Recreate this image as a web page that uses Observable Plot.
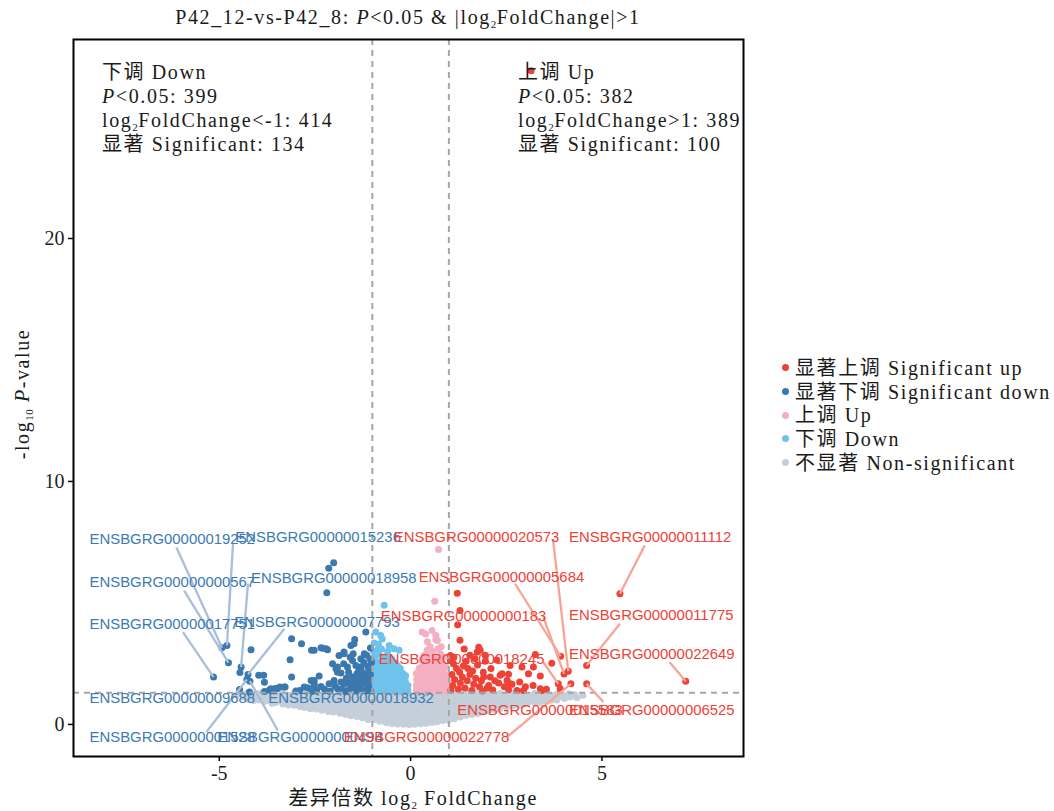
<!DOCTYPE html>
<html><head><meta charset="utf-8">
<script src="https://cdn.jsdelivr.net/npm/d3@7"></script>
<script src="https://cdn.jsdelivr.net/npm/@observablehq/plot@0.6"></script>
<style>
body{margin:0;background:#fff;}
#wrap{position:relative;width:1054px;height:811px;font-family:"Liberation Serif","Noto Sans CJK SC",serif;color:#1a1a1a;overflow:hidden;}
#wrap svg{position:absolute;left:0;top:0;}
.ov{position:absolute;white-space:nowrap;font-size:20px;line-height:24px;letter-spacing:1.6px;}
.ov sub{font-size:11px;vertical-align:-4px;line-height:0;letter-spacing:0.5px;}
.ov i{font-style:italic;}
.lg{display:flex;align-items:center;height:23.7px;}
.lg span.d{display:inline-block;width:7px;height:7px;border-radius:50%;margin-right:6px;}
</style></head>
<body><div id="wrap"></div>
<script>
// ---- data (log2 FoldChange, -log10 P) ----
const nonSig = [
[-4.55,1.21],[-4.42,1.26],[-4.38,1.12],[-4.27,1.28],[-4.22,1.15],[-4.26,1.04],[-4.12,1.22],[-4.08,1.09],[-4.1,0.98],
[-3.96,1.27],[-3.93,1.13],[-3.97,1.01],[-3.81,1.2],[-3.78,1.06],[-3.83,0.94],[-3.66,1.26],[-3.63,1.1],[-3.68,0.96],[-3.62,0.87],
[-3.51,1.18],[-3.48,1.03],[-3.53,0.9],[-3.36,1.27],[-3.33,1.12],[-3.38,0.97],[-3.34,0.84],[-3.21,1.2],[-3.18,1.05],[-3.23,0.91],[-3.19,0.8],
[-3.06,1.26],[-3.03,1.1],[-3.08,0.95],[-3.04,0.79],[-2.91,1.18],[-2.88,1.02],[-2.93,0.87],[-2.89,0.74],[-2.76,1.28],[-2.73,1.12],[-2.78,0.96],[-2.74,0.81],[-2.77,0.7],
[-2.61,1.2],[-2.58,1.04],[-2.63,0.88],[-2.59,0.73],[-2.62,0.65],[-2.46,1.27],[-2.43,1.1],[-2.48,0.94],[-2.44,0.78],[-2.47,0.63],
[-2.31,1.19],[-2.28,1.02],[-2.33,0.86],[-2.29,0.7],[-2.32,0.58],[-2.16,1.26],[-2.13,1.1],[-2.18,0.93],[-2.14,0.77],[-2.17,0.62],[-2.15,0.53],
[-2.01,1.18],[-1.98,1.02],[-2.03,0.85],[-1.99,0.68],[-2.02,0.51],[-1.86,1.27],[-1.83,1.1],[-1.88,0.93],[-1.84,0.76],[-1.87,0.6],[-1.85,0.46],
[-1.71,1.2],[-1.68,1.03],[-1.73,0.86],[-1.69,0.69],[-1.72,0.53],[-1.7,0.41],[-1.56,1.28],[-1.53,1.1],[-1.58,0.93],[-1.54,0.76],[-1.57,0.6],[-1.55,0.45],[-1.56,0.36],
[-1.41,1.2],[-1.38,1.02],[-1.43,0.85],[-1.39,0.68],[-1.42,0.51],[-1.4,0.33],[-1.26,1.27],[-1.23,1.1],[-1.28,0.92],[-1.24,0.75],[-1.27,0.58],[-1.25,0.42],[-1.26,0.27],
[-1.11,1.2],[-1.08,1.02],[-1.13,0.84],[-1.09,0.66],[-1.12,0.48],[-1.1,0.31],[-1.11,0.2],
[-0.96,1.27],[-0.93,1.1],[-0.98,0.92],[-0.94,0.74],[-0.97,0.56],[-0.95,0.38],[-0.96,0.19],
[-0.81,1.2],[-0.78,1.02],[-0.83,0.84],[-0.79,0.66],[-0.82,0.48],[-0.8,0.3],[-0.81,0.13],
[-0.66,1.27],[-0.63,1.09],[-0.68,0.91],[-0.64,0.73],[-0.67,0.55],[-0.65,0.37],[-0.66,0.19],[-0.64,0.07],
[-0.51,1.2],[-0.48,1.02],[-0.53,0.84],[-0.49,0.66],[-0.52,0.48],[-0.5,0.3],[-0.51,0.12],[-0.49,0.04],
[-0.36,1.27],[-0.33,1.09],[-0.38,0.91],[-0.34,0.73],[-0.37,0.55],[-0.35,0.37],[-0.36,0.19],[-0.34,0.02],
[-0.21,1.2],[-0.18,1.02],[-0.23,0.84],[-0.19,0.66],[-0.22,0.48],[-0.2,0.3],[-0.21,0.12],[-0.19,0.01],
[-0.06,1.27],[-0.03,1.09],[-0.08,0.91],[-0.04,0.73],[-0.07,0.55],[-0.05,0.37],[-0.06,0.19],[-0.04,0.0],
[0.09,1.2],[0.12,1.02],[0.07,0.84],[0.11,0.66],[0.08,0.48],[0.1,0.3],[0.09,0.12],[0.11,0.01],
[0.24,1.27],[0.27,1.09],[0.22,0.91],[0.26,0.73],[0.23,0.55],[0.25,0.37],[0.24,0.19],[0.26,0.03],
[0.39,1.2],[0.42,1.02],[0.37,0.84],[0.41,0.66],[0.38,0.48],[0.4,0.3],[0.39,0.12],[0.41,0.05],
[0.54,1.27],[0.57,1.09],[0.52,0.91],[0.56,0.73],[0.53,0.55],[0.55,0.37],[0.54,0.19],[0.56,0.08],
[0.69,1.2],[0.72,1.02],[0.67,0.84],[0.71,0.66],[0.68,0.48],[0.7,0.3],[0.69,0.11],
[0.84,1.27],[0.87,1.09],[0.82,0.91],[0.86,0.73],[0.83,0.55],[0.85,0.37],[0.84,0.16],
[0.99,1.2],[1.02,1.02],[0.97,0.84],[1.01,0.66],[0.98,0.48],[1.0,0.3],[0.99,0.18],
[1.14,1.27],[1.17,1.09],[1.12,0.91],[1.16,0.73],[1.13,0.55],[1.15,0.37],[1.14,0.23],
[1.29,1.2],[1.32,1.02],[1.27,0.84],[1.31,0.66],[1.28,0.48],[1.3,0.31],
[1.44,1.27],[1.47,1.09],[1.42,0.91],[1.46,0.73],[1.43,0.55],[1.45,0.38],
[1.59,1.2],[1.62,1.02],[1.57,0.84],[1.61,0.66],[1.58,0.5],[1.6,0.41],
[1.74,1.27],[1.77,1.09],[1.72,0.91],[1.76,0.73],[1.73,0.56],[1.75,0.45],
[1.89,1.2],[1.92,1.02],[1.87,0.84],[1.91,0.66],[1.88,0.51],
[2.04,1.27],[2.07,1.09],[2.02,0.91],[2.06,0.73],[2.03,0.57],
[2.19,1.2],[2.22,1.02],[2.17,0.84],[2.21,0.68],[2.18,0.61],
[2.34,1.27],[2.37,1.1],[2.32,0.93],[2.36,0.76],[2.33,0.65],
[2.49,1.2],[2.52,1.03],[2.47,0.86],[2.51,0.71],
[2.64,1.27],[2.67,1.1],[2.62,0.93],[2.66,0.77],
[2.79,1.2],[2.82,1.04],[2.77,0.88],[2.81,0.79],
[2.94,1.27],[2.97,1.1],[2.92,0.94],[2.96,0.83],
[3.09,1.2],[3.12,1.04],[3.07,0.89],
[3.24,1.27],[3.27,1.1],[3.22,0.95],[3.26,0.87],
[3.39,1.2],[3.42,1.05],[3.37,0.91],
[3.54,1.27],[3.57,1.12],[3.52,0.97],
[3.69,1.2],[3.72,1.06],[3.67,0.99],
[3.84,1.26],[3.87,1.12],[3.82,1.01],
[3.99,1.2],[4.02,1.07],[4.14,1.26],[4.17,1.13],[4.29,1.22],[4.35,1.1],[4.5,1.2]
];

const nsDown = [
[-0.97,1.4],[-0.97,1.6],[-0.97,1.8],[-0.97,2.0],[-0.96,2.2],[-0.97,2.45],[-0.96,2.7],[-0.97,3.0],[-0.95,3.35],
[-0.9,1.5],[-0.9,1.7],[-0.91,1.95],[-0.9,2.15],[-0.9,2.4],[-0.91,2.6],[-0.9,2.85],[-0.91,3.8],
[-0.83,1.38],[-0.83,1.6],[-0.84,1.82],[-0.83,2.05],[-0.83,2.3],[-0.84,2.55],[-0.83,2.9],[-0.84,3.3],[-0.85,3.1],
[-0.76,1.45],[-0.76,1.7],[-0.77,1.9],[-0.76,2.12],[-0.76,2.35],[-0.77,2.6],[-0.76,3.1],[-0.74,3.52],[-0.78,3.66],
[-0.69,1.36],[-0.69,1.55],[-0.7,1.8],[-0.69,2.0],[-0.69,2.25],[-0.7,2.5],[-0.69,2.78],[-0.69,4.9],
[-0.62,1.42],[-0.62,1.65],[-0.63,1.88],[-0.62,2.1],[-0.62,2.35],[-0.63,2.62],[-0.6,3.0],
[-0.55,1.35],[-0.55,1.58],[-0.56,1.8],[-0.55,2.02],[-0.55,2.28],[-0.56,2.5],[-0.55,2.75],[-0.56,3.25],
[-0.48,1.45],[-0.48,1.68],[-0.49,1.9],[-0.48,2.15],[-0.48,2.4],[-0.49,2.68],
[-0.41,1.38],[-0.41,1.6],[-0.42,1.82],[-0.41,2.05],[-0.41,2.3],[-0.42,2.55],[-0.43,3.11],
[-0.34,1.44],[-0.34,1.66],[-0.35,1.9],[-0.34,2.14],[-0.34,2.42],
[-0.27,1.36],[-0.27,1.58],[-0.28,1.8],[-0.27,2.05],[-0.27,2.3],[-0.3,3.05],
[-0.2,1.42],[-0.2,1.62],[-0.21,1.85],[-0.2,2.1],
[-0.13,1.35],[-0.13,1.55],[-0.14,1.78],[-0.13,2.0],
[-0.07,1.4],[-0.07,1.6]
];

const nsUp = [
[0.15,1.4],[0.15,1.6],[0.16,1.85],[0.15,2.1],
[0.22,1.35],[0.22,1.55],[0.23,1.78],[0.22,2.0],[0.22,2.3],
[0.29,1.42],[0.29,1.65],[0.3,1.88],[0.29,2.12],[0.29,2.38],[0.3,2.65],[0.3,3.8],
[0.36,1.38],[0.36,1.6],[0.37,1.82],[0.36,2.05],[0.36,2.3],[0.37,2.55],[0.36,2.85],[0.39,3.72],
[0.43,1.45],[0.43,1.68],[0.44,1.9],[0.43,2.15],[0.43,2.42],[0.44,2.7],[0.43,3.05],[0.44,3.4],
[0.5,1.36],[0.5,1.58],[0.51,1.8],[0.5,2.02],[0.5,2.28],[0.51,2.55],[0.5,2.85],[0.51,3.2],
[0.57,1.42],[0.57,1.65],[0.58,1.88],[0.57,2.12],[0.57,2.38],[0.58,2.65],[0.57,3.0],[0.56,3.87],
[0.64,1.35],[0.64,1.55],[0.65,1.78],[0.64,2.0],[0.64,2.25],[0.65,2.5],[0.64,2.8],[0.66,3.5],[0.63,5.07],
[0.71,1.44],[0.71,1.66],[0.72,1.9],[0.71,2.14],[0.71,2.4],[0.72,2.68],[0.71,3.1],[0.7,3.45],[0.66,3.66],[0.73,7.2],
[0.78,1.38],[0.78,1.6],[0.79,1.82],[0.78,2.05],[0.78,2.3],[0.79,2.6],[0.78,2.9],[0.8,3.2],
[0.85,1.45],[0.85,1.68],[0.86,1.92],[0.85,2.18],[0.85,2.45],[0.86,2.75],
[0.92,1.36],[0.92,1.58],[0.93,1.8],[0.92,2.05],[0.92,2.35],
[0.98,1.5],[0.98,1.75],[0.98,2.0]
];

const sigDown = [
[-2.01,6.65],[-2.14,6.43],[-2.19,5.42],
[-5.15,1.95],[-4.93,3.16],[-4.8,3.25],[-4.76,2.54],[-4.43,2.36],[-4.46,2.14],[-4.25,2.06],[-4.28,1.85],[-4.2,1.78],[-4.17,3.07],[-4.47,1.44],[-4.21,1.33],
[-3.97,2.02],[-3.84,2.02],[-3.82,1.74],[-3.82,1.36],[-3.69,1.42],[-3.54,1.48],[-3.42,1.54],[-3.28,1.54],
[-3.15,2.66],[-3.11,3.53],[-2.85,3.32],[-3.11,1.95],[-2.59,3.05],[-2.52,3.05],[-2.3,3.14],[-2.17,3.07],[-2.21,3.11],[-2.34,3.16],
[-2.39,1.99],[-2.6,1.81],[-2.52,1.67],[-2.78,1.54],[-2.69,1.51],[-2.52,1.6],[-2.34,1.56],[-2.13,1.67],[-2.0,1.81],[-2.52,1.81],
[-1.17,3.8],[-1.46,3.5],[-1.56,3.25],[-1.48,3.32],[-1.87,2.84],[-1.74,2.98],[-1.58,2.77],[-2.04,2.5],[-1.91,2.36],[-1.21,2.91],
[-1.91,1.47],[-1.74,1.65],[-1.56,1.51],[-1.39,1.6],[-1.95,2.29],[-1.91,2.15],[-1.75,2.5],[-1.65,2.36],[-1.52,2.63],[-1.43,2.43],
[-1.3,2.36],[-1.26,2.15],[-1.17,2.02],[-1.09,2.22],[-1.52,1.95],[-1.39,2.02],[-1.35,1.81],[-1.02,2.56],[-1.74,2.91],[-1.5,2.91],
[-1.05,1.4],[-1.12,1.55],[-1.2,1.7],[-1.08,1.85],[-1.15,1.38],[-1.28,1.45],[-1.32,1.65],[-1.42,1.38],[-1.45,1.75],[-1.6,1.7],
[-1.62,1.42],[-1.68,1.9],[-1.8,1.45],[-1.82,1.75],[-1.05,2.05],[-1.12,2.38],[-1.22,2.55],[-1.35,2.25],[-1.06,2.7],[-1.15,2.85],
[-1.05,3.15],[-1.3,2.7],[-1.62,2.15],[-1.82,2.12],[-2.25,1.45],[-2.45,1.42],[-2.1,1.38],[-1.98,1.58],[-2.9,1.4],[-3.0,1.38],
[-1.1,1.62],[-1.25,1.9],[-1.4,2.1],[-1.5,1.55],[-1.7,1.35],[-2.6,1.38],[-3.65,1.47],[-3.49,1.47],[-3.3,1.54]
];

const sigUp = [
[3.15,26.9],
[1.22,5.4],[1.29,4.69],[1.23,4.1],[1.29,3.46],[1.78,3.18],[1.82,3.05],[1.74,2.98],[1.13,2.77],[1.04,2.63],[1.04,2.84],
[3.26,2.88],[3.69,2.52],[3.21,2.36],[3.39,1.99],[2.56,2.07],[2.34,2.02],[2.6,2.43],[2.91,2.36],[3.43,1.4],[2.78,1.4],
[2.95,1.4],[2.56,1.43],[2.6,1.67],[2.04,1.6],[2.3,1.7],[2.08,1.95],[1.91,1.95],[2.52,1.81],[2.65,1.65],[3.08,2.09],[2.39,2.09],[3.39,1.47],
[4.12,2.19],[5.47,5.38],[3.92,2.81],[4.01,2.08],[4.6,2.43],[3.86,1.67],[7.19,1.78],[3.91,1.47],[4.19,1.67],[4.6,1.67],
[1.05,1.4],[1.1,1.6],[1.15,1.85],[1.08,2.05],[1.2,2.3],[1.12,2.5],[1.25,1.45],[1.3,1.7],[1.35,1.95],[1.28,2.15],
[1.38,2.4],[1.42,1.5],[1.48,1.8],[1.55,2.05],[1.5,2.3],[1.45,2.6],[1.6,1.4],[1.65,1.65],[1.7,1.9],[1.62,2.2],
[1.75,2.45],[1.68,2.7],[1.8,1.55],[1.85,1.8],[1.9,2.15],[1.95,2.6],[1.88,1.38],[2.0,1.5],[2.15,1.42],[2.2,1.8],
[2.1,2.3],[2.25,2.65],[1.55,2.85],[1.4,3.1],[1.95,2.85],[2.45,1.55],[2.85,1.75],[3.0,1.55],[3.2,1.6],[3.55,1.45]
];

// labelled genes: point, text start, segment start (null = no segment)
const labelGenes = ["ENSBGRG00000019252","ENSBGRG00000015236","ENSBGRG00000000567","ENSBGRG00000018958","ENSBGRG00000017751",
  "ENSBGRG00000007793","ENSBGRG00000009688","ENSBGRG00000018932","ENSBGRG00000001528","ENSBGRG00000000494",
  "ENSBGRG00000020573","ENSBGRG00000011112","ENSBGRG00000005684","ENSBGRG00000000183","ENSBGRG00000011775",
  "ENSBGRG00000018245","ENSBGRG00000022649","ENSBGRG00000015583","ENSBGRG00000006525","ENSBGRG00000022778"];
const labelSide  = ["down","down","down","down","down","down","down","down","down","down","up","up","up","up","up","up","up","up","up","up"];
const labelPtX   = [-4.93,-4.8,-4.76,-4.43,-5.15,-4.25,-4.47,-3.82,-4.28,-4.2, 4.12,5.47,3.92,4.01,4.6,3.86,7.19,3.91,4.6,4.19];
const labelPtY   = [3.16,3.25,2.54,2.36,1.95,2.06,1.44,1.36,1.85,1.78, 2.19,5.38,2.81,2.08,2.43,1.67,1.78,1.47,1.67,1.67];
const labelTxtX  = [-8.39,-4.58,-8.39,-4.17,-8.39,-4.61,-8.39,-3.72,-8.39,-5.05, -0.44,4.14,0.21,-0.78,4.14,-0.83,4.14,1.22,4.14,-1.75];
const labelTxtY  = [7.61,7.7,5.84,6.01,4.12,4.2,1.07,1.07,-0.53,-0.53, 7.7,7.7,6.05,4.44,4.49,2.67,2.88,0.58,0.58,-0.53];
const labelSegX  = [-6.12,-4.64,-5.92,-4.25,-5.95,-3.3,null,null,-5.34,-3.47, 3.72,6.12,2.73,3.47,5.47,3.47,6.77,null,5.04,2.52];
const labelSegY  = [7.28,7.45,5.51,5.8,3.8,3.94,null,null,-0.32,-0.25, 7.64,7.37,5.79,4.42,4.14,2.56,2.56,null,0.92,-0.52];

const xTicks = [-5,0,5], yTicks = [0,10,20];
const thresholdsX = [-1,1], thresholdY = [1.301];

const colors = {sigUp:"#EE4236", sigDown:"#3A78AE", up:"#F4B0C2", down:"#6EC3EC", ns:"#C4CFDA"};
const textColors = {up:"#EE4236", down:"#3C7AB3"};
const segColors = {up:"#F6A595", down:"#A9BEDA"};

const labels = labelGenes.map((g,i)=>({gene:g, side:labelSide[i], px:labelPtX[i], py:labelPtY[i], tx:labelTxtX[i], ty:labelTxtY[i], sx:labelSegX[i], sy:labelSegY[i]}));
const segs = labels.filter(d=>d.sx!=null);

const W=1054, H=811;
const dot = (data, fill) => Plot.dot(data, {x:d=>d[0], y:d=>d[1], r:3.5, fill, stroke:null});

const chart = Plot.plot({
  width:W, height:H,
  marginLeft:73, marginRight:W-743, marginTop:39, marginBottom:H-756,
  x:{domain:[-8.81,8.7]},
  y:{domain:[-1.32,28.19]},
  style:{fontFamily:"'Liberation Serif','Noto Sans CJK SC',serif", background:"transparent"},
  marks:[
    dot(nonSig, colors.ns),
    dot(nsDown, colors.down),
    dot(nsUp, colors.up),
    dot(sigDown, colors.sigDown),
    dot(sigUp, colors.sigUp),
    Plot.ruleX(thresholdsX, {stroke:"#a6a6a6", strokeWidth:2, strokeDasharray:"6,5"}),
    Plot.ruleY(thresholdY, {stroke:"#a6a6a6", strokeWidth:2, strokeDasharray:"6,5"}),
    Plot.link(segs, {x1:"sx", y1:"sy", x2:"px", y2:"py", stroke:d=>segColors[d.side], strokeWidth:2.3}),
    Plot.text(labels, {x:"tx", y:"ty", text:"gene", textAnchor:"start", fill:d=>textColors[d.side], fontSize:14.9, fontFamily:"'Liberation Sans',Arial,sans-serif"}),
    Plot.axisX({ticks:xTicks, tickFormat:d=>String(d), tickSize:5, tickPadding:4, fontSize:20, label:null, stroke:"#000", strokeWidth:1.5, fill:"#222"}),
    Plot.axisY({ticks:yTicks, tickFormat:d=>String(d), tickSize:5, tickPadding:4, fontSize:20, label:null, stroke:"#000", strokeWidth:1.5, fill:"#222"}),
    Plot.frame({stroke:"#000", strokeWidth:2})
  ]
});

const wrap = document.getElementById("wrap");
wrap.appendChild(chart);

const legendItems = [
  ["显著上调 Significant up", colors.sigUp],
  ["显著下调 Significant down", colors.sigDown],
  ["上调 Up", colors.up],
  ["下调 Down", colors.down],
  ["不显著 Non-significant", colors.ns]
];

function ov(html, style){ const d=document.createElement("div"); d.className="ov"; d.innerHTML=html; Object.assign(d.style, style); wrap.appendChild(d); return d; }

ov("P42_12-vs-P42_8: <i>P</i>&lt;0.05 &amp; |log<sub>2</sub>FoldChange|&gt;1", {left:"73px", width:"670px", textAlign:"center", top:"5px"});
ov("下调 Down<br><i>P</i>&lt;0.05: 399<br>log<sub>2</sub>FoldChange&lt;-1: 414<br>显著 Significant: 134", {left:"102px", top:"60px"});
ov("上调 Up<br><i>P</i>&lt;0.05: 382<br>log<sub>2</sub>FoldChange&gt;1: 389<br>显著 Significant: 100", {left:"518px", top:"60px"});
ov(legendItems.map(([t,c])=>`<div class="lg"><span class="d" style="background:${c}"></span>${t}</div>`).join(""), {left:"782px", top:"356px"});
ov("差异倍数 log<sub>2</sub> FoldChange", {left:"73px", width:"680px", textAlign:"center", top:"786px"});
ov("-log<sub>10</sub> <i>P</i>-value", {left:"22px", top:"394px", transform:"translate(-50%,-50%) rotate(-90deg)"});
</script>
</body></html>
